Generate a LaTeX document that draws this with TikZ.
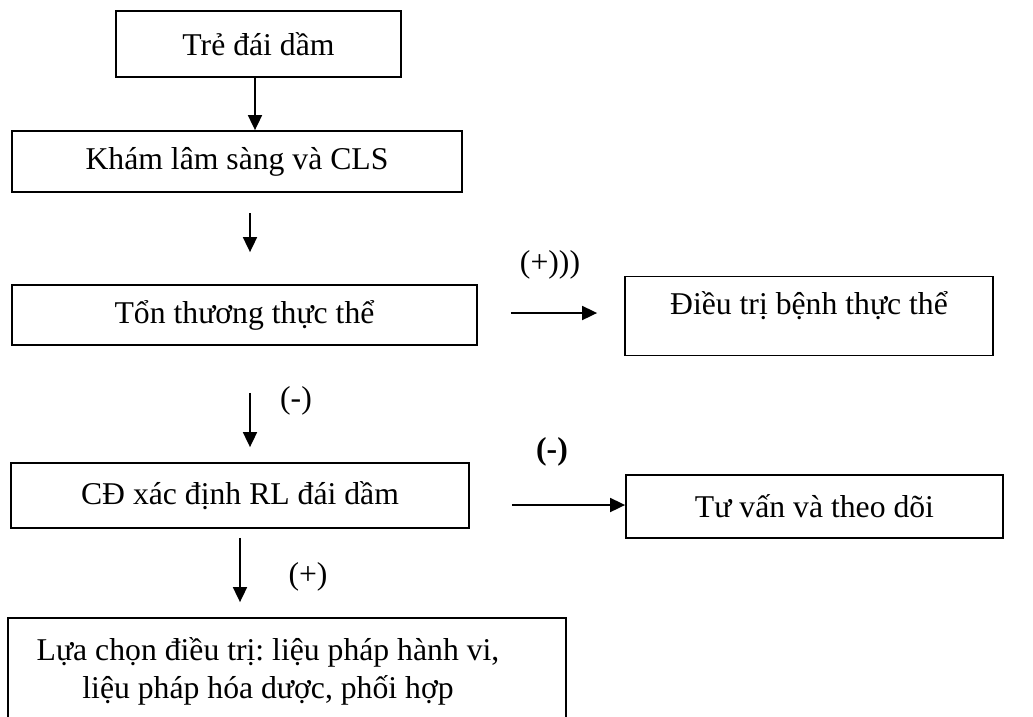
\documentclass[tikz,border=0pt]{standalone}
\usepackage{fontspec}
\setmainfont{Liberation Serif}
\usetikzlibrary{arrows.meta}
\frenchspacing
\begin{document}
\begin{tikzpicture}[x=1pt,y=-1pt,
  box/.style={draw,line width=1.8pt,rectangle,inner sep=0pt,font=\fontsize{31.7}{38}\selectfont},
  lbl/.style={inner sep=0pt,font=\fontsize{31.7}{38}\selectfont},
  arr/.style={line width=1.8pt,-{Triangle[length=15pt,width=14pt]}}]
\clip (0,0) rectangle (1033,716);
\node[box,minimum width=285,minimum height=66] (b1) at (258.5,44) {Trẻ đái dầm};
\node[box,minimum width=450,minimum height=61] (b2) at (237,161.5) {Khám lâm sàng và CLS};
\node[box,minimum width=465,minimum height=60] (b3) at (244.5,315) {Tổn thương thực thể};
\node[box,minimum width=368,minimum height=79] (b4) at (809,316) {};
\node[lbl] (t4) at (809,306) {Điều trị bệnh thực thể};
\node[box,minimum width=458,minimum height=65] (b5) at (240,495.5) {CĐ xác định RL đái dầm};
\node[box,minimum width=377,minimum height=63] (b6) at (814.5,506.5) {Tư vấn và theo dõi};
\node[box,minimum width=558,minimum height=124] (b7) at (287,680) {};
\node[lbl,align=center] (t7) at (268,671) {Lựa chọn điều trị: liệu pháp hành vi,\\liệu pháp hóa dược, phối hợp};
\coordinate (x1) at (255,0);
\coordinate (x2) at (250,0);
\coordinate (x4) at (250,0);
\coordinate (x6) at (240,0);
\coordinate (y3) at (0,313);
\coordinate (y5) at (0,505);
\draw[arr] (b1.south -| x1) -- (b2.north -| x1);
\draw[arr,shorten <=20.5pt,shorten >=32pt] (b2.south -| x2) -- (b3.north -| x2);
\draw[arr,shorten <=33pt,shorten >=27pt] (b3.east |- y3) -- (b4.west |- y3);
\draw[arr,shorten <=47pt,shorten >=15pt] (b3.south -| x4) -- (b5.north -| x4);
\draw[arr,shorten <=42pt] (b5.east |- y5) -- (b6.west |- y5);
\draw[arr,shorten <=9pt,shorten >=15pt] (b5.south -| x6) -- (b7.north -| x6);
\node[lbl] (l3) at (550,265) {(+)))};
\node[lbl] (l4) at (296,401) {(-)};
\node[lbl,font=\fontsize{31.7}{38}\selectfont\bfseries] (l5) at (552,452) {(-)};
\node[lbl] (l6) at (308,577) {(+)};
\end{tikzpicture}
\end{document}
